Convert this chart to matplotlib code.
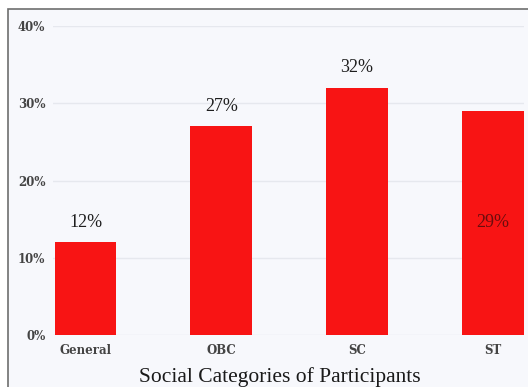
import matplotlib.pyplot as plt
from matplotlib.patches import Rectangle
from matplotlib.ticker import FuncFormatter

categories = ["General", "OBC", "SC", "ST"]
shares = [12, 27, 32, 29]
yticks = [0, 10, 20, 30, 40]

BAR = "#f81414"
PANEL = "#f7f8fc"
GRID = "#e6e8ee"

fig = plt.figure(figsize=(5.28, 3.87), dpi=100, facecolor="white")

# screenshot panel with grey frame on left/top
fig.patches.append(Rectangle((8 / 528, -0.05), 1.2, 1 - 9 / 387 + 0.05,
                             transform=fig.transFigure, facecolor=PANEL,
                             edgecolor="#6e6e6e", linewidth=1.2, zorder=-5))

ax = fig.add_axes([53 / 528, 1 - 335 / 387, (524 - 53) / 528, (335 - 26) / 387])
ax.set_facecolor("none")
ax.set_zorder(2)

x = range(len(categories))
ax.bar(x, shares, width=0.455, color=BAR, zorder=2)

ax.set_xlim(-0.24, 3.23)
ax.set_ylim(0, 40)
ax.set_yticks(yticks)
ax.yaxis.set_major_formatter(FuncFormatter(lambda v, _: f"{v:.0f}%"))
ax.set_xticks(list(x))
ax.set_xticklabels(categories)
ax.grid(axis="y", color=GRID, linewidth=1, zorder=0)
ax.set_axisbelow(True)
for s in ax.spines.values():
    s.set_visible(False)
ax.tick_params(length=0, labelsize=8.5, labelcolor="#444444")
ax.tick_params(axis="y", pad=5.5)
ax.tick_params(axis="x", pad=6.5)
for lab in ax.get_xticklabels() + ax.get_yticklabels():
    lab.set_family("DejaVu Serif")
    lab.set_fontweight("bold")

for i, v in enumerate(shares):
    if i == len(shares) - 1:
        ax.text(i, v / 2, f"{v}%", ha="center", va="center", fontsize=13,
                family="Liberation Serif", color="#6a0d0d", zorder=3)
    else:
        ax.text(i, v + 2.6, f"{v}%", ha="center", va="center", fontsize=13,
                family="Liberation Serif", color="#1e1e1e", zorder=3)

fig.text(280 / 528, 1 - 377 / 387, "Social Categories of Participants",
         ha="center", va="center", fontsize=15.5, family="Liberation Serif",
         color="#1a1a1a")

fig.savefig("out.png", dpi=100)
